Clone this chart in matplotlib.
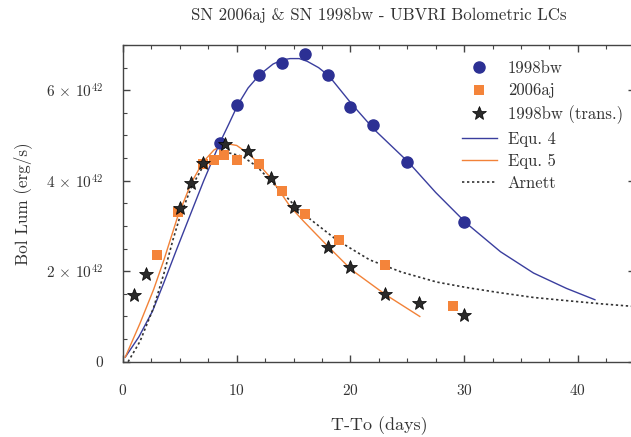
import matplotlib
matplotlib.use("Agg")
import matplotlib.pyplot as plt
from matplotlib.ticker import MultipleLocator, FuncFormatter

# Bolometric luminosities in units of 1e42 erg/s, time since explosion in days
t_98bw = [8.5, 10, 12, 14, 16, 18, 20, 22, 25, 30]
L_98bw = [4.83, 5.68, 6.34, 6.60, 6.81, 6.34, 5.63, 5.23, 4.41, 3.08]

t_06aj = [3, 4.8, 7, 8, 8.9, 10, 12, 14, 16, 19, 23, 29]
L_06aj = [2.35, 3.31, 4.37, 4.46, 4.57, 4.46, 4.37, 3.77, 3.27, 2.69, 2.13, 1.23]

t_98bw_tr = [1, 2, 5, 6, 7, 9, 11, 13, 15, 18, 20, 23, 26, 30]
L_98bw_tr = [1.48, 1.93, 3.39, 3.95, 4.39, 4.82, 4.65, 4.07, 3.41, 2.53, 2.09, 1.49, 1.29, 1.03]

# model curves (Equ. 4, Equ. 5, Arnett)
t_eq4 = [0.2, 1.4, 2.6, 3.6, 4.7, 6.0, 7.1, 8.5, 9.3, 10.1, 11, 12, 13.2, 14.0, 14.7,
         15.5, 16.2, 17.2, 18.1, 20.1, 22.1, 25.1, 27.5, 30.2, 33.2, 36.1, 39.0, 41.5]
L_eq4 = [0.1, 0.55, 1.12, 1.75, 2.47, 3.3, 4.0, 4.83, 5.25, 5.68, 6.05, 6.34, 6.58, 6.67, 6.70,
         6.70, 6.64, 6.50, 6.32, 5.70, 5.13, 4.41, 3.74, 3.06, 2.43, 1.96, 1.62, 1.37]

t_eq5 = [0.2, 1.5, 2.7, 3.6, 4.8, 6.0, 7.0, 8.0, 9.1, 10.0, 11.2, 12.9, 14.7,
         15.9, 18.1, 20.1, 23.1, 26.1]
L_eq5 = [0.1, 0.85, 1.6, 2.25, 3.2, 3.95, 4.4, 4.68, 4.82, 4.78, 4.57, 4.09, 3.43,
         3.1, 2.53, 2.03, 1.48, 1.0]

t_arn = [0.45, 1.5, 2.7, 3.6, 4.4, 5.0, 6.0, 7.0, 8.0, 9.4, 10.5, 11.8, 12.9, 14.0,
         15.6, 18.8, 21.7, 24.5, 27.6, 30.2, 33.0, 36.1, 39.0, 42.0, 45.0]
L_arn = [0.0, 0.45, 1.2, 1.95, 2.7, 3.2, 3.85, 4.3, 4.52, 4.61, 4.54, 4.31, 4.02, 3.74,
         3.32, 2.69, 2.25, 1.98, 1.76, 1.64, 1.53, 1.42, 1.35, 1.28, 1.22]

plt.rcParams['font.family'] = 'serif'
plt.rcParams['font.serif'] = ['cmr10']
plt.rcParams['mathtext.fontset'] = 'cm'
plt.rcParams['axes.formatter.use_mathtext'] = True
plt.rcParams['font.size'] = 11

blue = '#2c3094'
orange = '#f4843a'
txtcol = '#333333'

fig = plt.figure(figsize=(6.31, 4.37), dpi=100)
ax = fig.add_axes([0.1949, 0.1723, 0.811, 0.7247])

ax.plot(t_98bw, L_98bw, 'o', color=blue, ms=8, mec=blue, zorder=4, label='1998bw')
ax.plot(t_06aj, L_06aj, 's', color=orange, ms=7.5, mew=0, zorder=4, label='2006aj')
ax.plot(t_98bw_tr, L_98bw_tr, '*', color='#2a2a2a', mec='black', mew=0.5, ms=10,
        zorder=5, label='1998bw (trans.)')
ax.plot(t_eq4, L_eq4, '-', color='#3a3e9e', lw=1.0, zorder=3, label='Equ. 4')
ax.plot(t_eq5, L_eq5, '-', color='#f28238', lw=1.0, zorder=3, label='Equ. 5')
ax.plot(t_arn, L_arn, color='#333333', lw=1.2, ls=(0, (1.4, 1.6)), zorder=3,
        label='Arnett')

ax.set_xlim(0, 45)
ax.set_ylim(0, 7)
ax.xaxis.set_major_locator(MultipleLocator(10))
ax.xaxis.set_minor_locator(MultipleLocator(2.5))
ax.yaxis.set_major_locator(MultipleLocator(2))
ax.yaxis.set_minor_locator(MultipleLocator(0.5))


def lum_fmt(v, pos):
    if abs(v) < 1e-9:
        return '0'
    return r'$%d\,\times\,10^{42}\;\;$' % round(v)


ax.yaxis.set_major_formatter(FuncFormatter(lum_fmt))

for s in ax.spines.values():
    s.set_color('#444444')
    s.set_linewidth(1.0)
ax.tick_params(which='both', direction='in', top=True, right=True, color='#444444',
               labelcolor=txtcol)
ax.tick_params(which='major', length=4.8, width=1.0)
ax.tick_params(which='minor', length=3.0, width=0.8)
ax.tick_params(axis='x', which='major', pad=15, labelsize=11)
ax.tick_params(axis='y', which='major', pad=14, labelsize=11)

ax.set_title('SN 2006aj & SN 1998bw - UBVRI Bolometric LCs', pad=18, color=txtcol,
             fontsize=12.1)
ax.set_xlabel('T-To (days)', labelpad=13.5, color=txtcol, fontsize=13)
ax.set_ylabel('Bol Lum (erg/s)', labelpad=10, color=txtcol, fontsize=12.3)

leg = ax.legend(loc='upper left', bbox_to_anchor=(0.662, 0.950), frameon=False,
                borderpad=0, borderaxespad=0, numpoints=1, handlelength=2.1,
                handletextpad=0.66, labelspacing=0.42, fontsize=12)
for txt in leg.get_texts():
    txt.set_color(txtcol)

fig.savefig('out.png', dpi=100)
